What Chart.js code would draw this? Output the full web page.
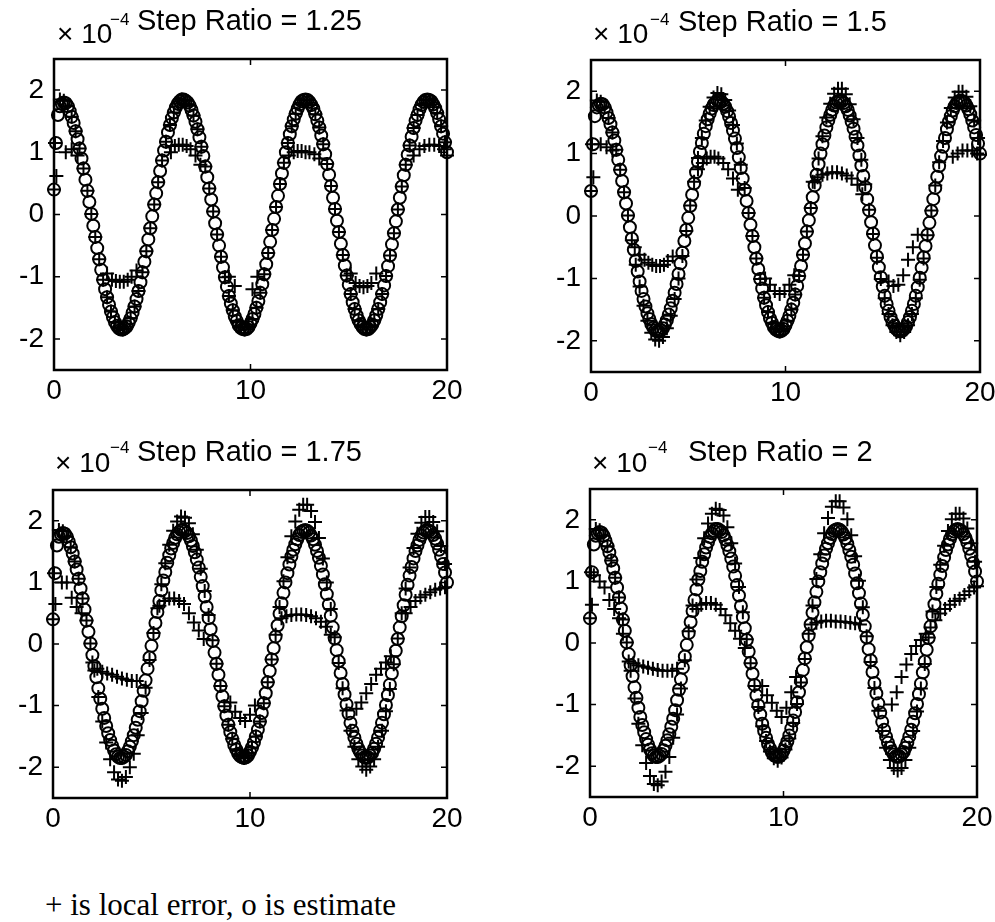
<!DOCTYPE html>
<html>
<head>
<meta charset="utf-8">
<script src="https://cdn.jsdelivr.net/npm/chart.js@4.4.0/dist/chart.umd.min.js"></script>
<style>
  body { margin: 0; background: #fff; width: 995px; height: 922px; position: relative; overflow: hidden; }
  canvas { position: absolute; }
  .t { position: absolute; font-family: "Liberation Sans", Arial, sans-serif; font-size: 28px; line-height: 28px; color: #000; white-space: nowrap; }
  .h { position: absolute; font-family: "Liberation Sans", Arial, sans-serif; font-size: 29px; line-height: 29px; color: #000; white-space: nowrap; }
  .sup { position: absolute; font-family: "Liberation Sans", Arial, sans-serif; font-size: 17px; line-height: 17px; color: #000; }
  .cap { position: absolute; left: 45px; top: 889px; font-family: "Liberation Serif", "Times New Roman", serif; font-size: 31px; line-height: 31px; color: #000; white-space: nowrap; }
</style>
</head>
<body>
<canvas id="p1" width="480" height="380" style="left:0;top:40px"></canvas>
<canvas id="p2" width="505" height="380" style="left:490px;top:40px"></canvas>
<canvas id="p3" width="480" height="400" style="left:0;top:440px"></canvas>
<canvas id="p4" width="505" height="400" style="left:490px;top:440px"></canvas>

<div class="t" style="left:57px;top:20px">× 10</div><div class="sup" style="left:110px;top:11px">−4</div>
<div class="h" style="left:137px;top:6px">Step Ratio = 1.25</div>
<div class="t" style="left:593px;top:20px">× 10</div><div class="sup" style="left:650px;top:11px">−4</div>
<div class="h" style="left:678px;top:7px">Step Ratio = 1.5</div>
<div class="t" style="left:55px;top:449px">× 10</div><div class="sup" style="left:110px;top:439px">−4</div>
<div class="h" style="left:137px;top:437px">Step Ratio = 1.75</div>
<div class="t" style="left:592px;top:449px">× 10</div><div class="sup" style="left:648px;top:439px">−4</div>
<div class="h" style="left:688px;top:437px">Step Ratio = 2</div>

<div class="cap">+ is local error, o is estimate</div>

<script>
// time points of the estimate (o), one row per unit of t
const tEst = [
  0,0.1,0.2,0.3,0.4,0.5,0.6,0.7,0.8,0.9,
  1,1.1,1.2,1.3,1.4,1.5,1.6,1.7,1.8,1.9,
  2,2.1,2.2,2.3,2.4,2.5,2.6,2.7,2.8,2.9,
  3,3.1,3.2,3.3,3.4,3.5,3.6,3.7,3.8,3.9,
  4,4.1,4.2,4.3,4.4,4.5,4.6,4.7,4.8,4.9,
  5,5.1,5.2,5.3,5.4,5.5,5.6,5.7,5.8,5.9,
  6,6.1,6.2,6.3,6.4,6.5,6.6,6.7,6.8,6.9,
  7,7.1,7.2,7.3,7.4,7.5,7.6,7.7,7.8,7.9,
  8,8.1,8.2,8.3,8.4,8.5,8.6,8.7,8.8,8.9,
  9,9.1,9.2,9.3,9.4,9.5,9.6,9.7,9.8,9.9,
  10,10.1,10.2,10.3,10.4,10.5,10.6,10.7,10.8,10.9,
  11,11.1,11.2,11.3,11.4,11.5,11.6,11.7,11.8,11.9,
  12,12.1,12.2,12.3,12.4,12.5,12.6,12.7,12.8,12.9,
  13,13.1,13.2,13.3,13.4,13.5,13.6,13.7,13.8,13.9,
  14,14.1,14.2,14.3,14.4,14.5,14.6,14.7,14.8,14.9,
  15,15.1,15.2,15.3,15.4,15.5,15.6,15.7,15.8,15.9,
  16,16.1,16.2,16.3,16.4,16.5,16.6,16.7,16.8,16.9,
  17,17.1,17.2,17.3,17.4,17.5,17.6,17.7,17.8,17.9,
  18,18.1,18.2,18.3,18.4,18.5,18.6,18.7,18.8,18.9,
  19,19.1,19.2,19.3,19.4,19.5,19.6,19.7,19.8,19.9,
  20];
const estimate = [
  0.4,1.15,1.6,1.74,1.78,1.8,1.79,1.74,1.66,1.57,
  1.47,1.34,1.21,1.06,0.90,0.74,0.56,0.38,0.20,0.01,
  -0.18,-0.36,-0.54,-0.72,-0.89,-1.05,-1.20,-1.33,-1.45,-1.56,
  -1.65,-1.73,-1.79,-1.83,-1.85,-1.85,-1.83,-1.80,-1.74,-1.67,
  -1.58,-1.48,-1.36,-1.23,-1.09,-0.93,-0.76,-0.59,-0.40,-0.22,
  -0.03,0.16,0.34,0.52,0.70,0.87,1.03,1.17,1.32,1.44,
  1.55,1.64,1.72,1.78,1.82,1.85,1.85,1.83,1.80,1.75,
  1.68,1.59,1.49,1.37,1.24,1.09,0.94,0.77,0.60,0.42,
  0.24,0.05,-0.14,-0.32,-0.50,-0.68,-0.85,-1.01,-1.16,-1.31,
  -1.43,-1.54,-1.64,-1.71,-1.78,-1.82,-1.84,-1.85,-1.84,-1.81,
  -1.75,-1.68,-1.60,-1.50,-1.39,-1.26,-1.12,-0.96,-0.80,-0.62,
  -0.44,-0.25,-0.07,0.12,0.30,0.49,0.66,0.83,1.00,1.15,
  1.29,1.42,1.53,1.62,1.70,1.77,1.82,1.84,1.85,1.84,
  1.81,1.76,1.70,1.61,1.51,1.40,1.27,1.13,0.97,0.81,
  0.64,0.46,0.27,0.09,-0.10,-0.28,-0.47,-0.65,-0.82,-0.98,
  -1.13,-1.28,-1.41,-1.52,-1.62,-1.70,-1.76,-1.81,-1.84,-1.85,
  -1.84,-1.81,-1.77,-1.70,-1.62,-1.52,-1.41,-1.28,-1.14,-0.99,
  -0.83,-0.66,-0.48,-0.30,-0.11,0.08,0.27,0.45,0.63,0.80,
  0.96,1.11,1.25,1.39,1.51,1.60,1.69,1.76,1.81,1.84,
  1.85,1.84,1.82,1.77,1.71,1.63,1.53,1.42,1.30,1.16,
  1.00];

// time points of the local error (+), main branch
const tErr = [0,0.05,0.3,0.5,0.7,0.9,1.1,1.3,1.5,1.7,1.9,2.1,2.3,2.5,2.7,2.9,3.1,3.3,3.5,3.7,3.9,4.1,4.3,4.5,4.7,4.9,5.1,5.3,5.5,5.7,5.9,6.1,6.3,6.5,6.7,6.9,7.1,7.3,7.5,7.7,7.9,8.1,8.3,8.5,8.7,8.9,9.1,9.3,9.5,9.7,9.9,10.1,10.3,10.5,10.7,10.9,11.1,11.3,11.5,11.7,11.9,12.1,12.3,12.5,12.7,12.9,13.1,13.3,13.5,13.7,13.9,14.1,14.3,14.5,14.7,14.9,15.1,15.3,15.5,15.7,15.9,16.1,16.3,16.5,16.7,16.9,17.1,17.3,17.5,17.7,17.9,18.1,18.3,18.5,18.7,18.9,19.1,19.3,19.5,19.7,19.9];
const errR125 = [0.4,1.15,1.85,1.83,1.74,1.57,1.34,1.06,0.74,0.38,0.01,-0.36,-0.72,-1.05,-1.33,-1.56,-1.73,-1.83,-1.85,-1.80,-1.67,-1.48,-1.23,-0.93,-0.59,-0.22,0.16,0.52,0.87,1.17,1.44,1.64,1.78,1.85,1.83,1.75,1.59,1.37,1.09,0.77,0.42,0.05,-0.32,-0.68,-1.01,-1.31,-1.54,-1.71,-1.82,-1.85,-1.81,-1.68,-1.50,-1.26,-0.96,-0.62,-0.25,0.12,0.49,0.83,1.15,1.42,1.62,1.77,1.84,1.84,1.76,1.61,1.40,1.13,0.81,0.46,0.09,-0.28,-0.65,-0.98,-1.28,-1.52,-1.70,-1.81,-1.85,-1.81,-1.70,-1.52,-1.28,-0.99,-0.66,-0.30,0.08,0.45,0.80,1.11,1.39,1.60,1.76,1.84,1.84,1.77,1.63,1.42,1.16];
const errR150 = [0.4,1.15,1.85,1.83,1.74,1.57,1.34,1.06,0.74,0.38,0.01,-0.39,-0.78,-1.13,-1.44,-1.68,-1.87,-1.98,-2.00,-1.94,-1.80,-1.60,-1.33,-1.00,-0.64,-0.24,0.17,0.55,0.93,1.25,1.53,1.75,1.90,1.97,1.95,1.86,1.69,1.46,1.16,0.82,0.45,0.05,-0.32,-0.68,-1.01,-1.31,-1.54,-1.71,-1.82,-1.85,-1.81,-1.68,-1.50,-1.26,-0.96,-0.62,-0.25,0.13,0.54,0.92,1.28,1.58,1.80,1.96,2.04,2.04,1.95,1.79,1.55,1.25,0.90,0.51,0.10,-0.29,-0.67,-1.01,-1.32,-1.57,-1.75,-1.86,-1.91,-1.86,-1.75,-1.57,-1.32,-1.02,-0.68,-0.31,0.09,0.49,0.86,1.20,1.50,1.73,1.90,1.99,1.99,1.91,1.76,1.53,1.25];
const errR175 = [0.4,1.15,1.85,1.83,1.74,1.57,1.34,1.06,0.74,0.38,0.01,-0.43,-0.86,-1.26,-1.60,-1.87,-2.08,-2.20,-2.22,-2.16,-2.00,-1.78,-1.48,-1.12,-0.71,-0.26,0.18,0.58,0.97,1.31,1.61,1.84,1.99,2.07,2.05,1.96,1.78,1.53,1.22,0.86,0.47,0.06,-0.32,-0.68,-1.01,-1.31,-1.54,-1.71,-1.82,-1.85,-1.81,-1.68,-1.50,-1.26,-0.96,-0.62,-0.25,0.15,0.60,1.02,1.41,1.75,1.99,2.18,2.26,2.26,2.16,1.98,1.72,1.39,1.00,0.57,0.11,-0.31,-0.72,-1.08,-1.41,-1.67,-1.87,-1.99,-2.04,-1.99,-1.87,-1.67,-1.41,-1.09,-0.73,-0.33,0.09,0.50,0.90,1.24,1.56,1.79,1.97,2.06,2.06,1.98,1.83,1.59,1.30];
const errR200 = [0.4,1.15,1.85,1.83,1.74,1.57,1.34,1.06,0.74,0.38,0.01,-0.45,-0.90,-1.31,-1.66,-1.95,-2.16,-2.29,-2.31,-2.25,-2.09,-1.85,-1.54,-1.16,-0.74,-0.28,0.19,0.61,1.03,1.38,1.70,1.94,2.10,2.18,2.16,2.07,1.88,1.62,1.29,0.91,0.50,0.06,-0.33,-0.70,-1.04,-1.35,-1.59,-1.76,-1.87,-1.91,-1.86,-1.73,-1.55,-1.30,-0.99,-0.64,-0.26,0.15,0.61,1.04,1.44,1.78,2.03,2.21,2.30,2.30,2.20,2.01,1.75,1.41,1.01,0.58,0.11,-0.31,-0.73,-1.10,-1.43,-1.70,-1.90,-2.03,-2.07,-2.03,-1.90,-1.70,-1.43,-1.11,-0.74,-0.34,0.09,0.51,0.91,1.27,1.58,1.82,2.01,2.10,2.10,2.02,1.86,1.62,1.32];

// local error (+), flattened branch near the extremes
const flatX125 = [0.12,0.6,0.9,1.2,2.7,2.95,3.15,3.35,3.55,3.75,3.95,4.2,5.95,6.15,6.35,6.55,6.75,6.95,7.2,7.45,8.9,9.2,10.1,10.35,11.95,12.2,12.4,12.6,12.8,13.0,13.25,13.5,15.1,15.35,15.55,15.75,15.95,16.15,16.4,18.3,18.6,18.85,19.1,19.35,19.6,19.85,20];
const flatY125 = [0.62,1.0,1.05,0.95,-0.95,-1.05,-1.07,-1.08,-1.08,-1.05,-1.0,-0.9,1.0,1.1,1.12,1.12,1.1,1.05,0.95,0.8,-1.0,-1.15,-1.2,-1.0,0.95,1.0,1.02,1.02,1.0,1.0,0.97,0.9,-0.95,-1.1,-1.15,-1.17,-1.15,-1.1,-0.95,0.95,1.05,1.1,1.12,1.12,1.1,1.05,0.95];
const flatX150 = [0.12,0.5,0.8,1.1,2.25,2.5,2.75,2.95,3.15,3.35,3.55,3.75,3.95,4.2,5.5,5.75,5.95,6.15,6.35,6.55,6.8,7.05,7.3,7.55,8.95,9.2,9.45,9.7,9.95,10.2,10.45,11.4,11.65,11.9,12.15,12.4,12.65,12.9,13.15,13.4,13.7,13.95,15.3,15.55,15.8,16.05,16.3,16.55,16.8,18.6,18.85,19.1,19.35,19.6,19.85,20];
const flatY150 = [0.62,1.15,1.1,1.05,-0.5,-0.62,-0.7,-0.75,-0.78,-0.8,-0.8,-0.78,-0.72,-0.65,0.75,0.85,0.92,0.95,0.95,0.92,0.85,0.75,0.6,0.42,-1.0,-1.1,-1.2,-1.25,-1.2,-1.1,-0.95,0.55,0.62,0.66,0.68,0.7,0.7,0.68,0.65,0.6,0.5,0.35,-1.05,-1.12,-1.1,-0.95,-0.7,-0.5,-0.3,0.95,1.0,1.05,1.05,1.05,1.0,0.98];
const flatX175 = [0.12,0.45,0.7,0.95,1.2,1.45,2.0,2.25,2.5,2.75,3.0,3.25,3.5,3.75,4.0,4.25,5.4,5.65,5.9,6.15,6.4,6.65,6.9,7.15,7.4,7.65,9.0,9.25,9.5,9.75,10.0,10.25,11.6,11.85,12.1,12.35,12.6,12.85,13.1,13.35,13.6,13.85,14.1,15.4,15.65,15.9,16.15,16.4,16.65,16.9,17.15,17.9,18.15,18.4,18.65,18.9,19.15,19.4,19.65,19.9];
const flatY175 = [0.65,1.0,1.0,0.75,0.6,0.5,-0.3,-0.4,-0.45,-0.48,-0.5,-0.53,-0.56,-0.58,-0.6,-0.6,0.62,0.7,0.74,0.74,0.7,0.65,0.5,0.35,0.22,0.08,-0.95,-1.1,-1.2,-1.25,-1.15,-1.0,0.42,0.45,0.47,0.48,0.48,0.47,0.45,0.42,0.36,0.28,0.15,-1.05,-0.95,-0.8,-0.65,-0.5,-0.4,-0.3,-0.2,0.5,0.6,0.7,0.76,0.8,0.84,0.88,0.9,0.92];
const flatX200 = [0.1,0.2,0.5,0.75,1.0,1.25,1.5,1.7,2.0,2.25,2.5,2.75,3.0,3.25,3.5,3.75,4.0,4.25,4.5,5.5,5.75,6.0,6.25,6.5,6.75,7.0,7.25,7.5,7.75,8.0,8.9,9.15,9.4,9.65,9.9,10.15,10.4,10.65,11.45,11.7,11.95,12.2,12.45,12.7,12.95,13.2,13.45,13.7,13.95,15.6,15.85,16.1,16.35,16.6,16.85,17.1,17.35,17.6,17.85,18.1,18.35,18.6,18.85,19.1,19.35,19.6,19.85,20];
const flatY200 = [0.62,1.1,1.0,0.9,0.7,0.55,0.4,0.15,-0.3,-0.33,-0.36,-0.38,-0.4,-0.42,-0.44,-0.45,-0.45,-0.45,-0.42,0.55,0.62,0.65,0.65,0.62,0.55,0.45,0.32,0.2,0.07,-0.08,-0.7,-0.85,-0.97,-1.1,-1.2,-1.05,-0.8,-0.55,0.3,0.33,0.35,0.36,0.36,0.35,0.35,0.34,0.33,0.32,0.3,-1.0,-0.8,-0.55,-0.35,-0.18,-0.05,0.05,0.15,0.25,0.37,0.48,0.55,0.62,0.68,0.72,0.78,0.84,0.9,0.92];

const xTicks = [0, 10, 20];
const yTicks = [-2, -1, 0, 1, 2];

function pts(xs, ys) {
  const n = Math.min(xs.length, ys.length);
  const out = [];
  for (let i = 0; i < n; i++) out.push({ x: xs[i], y: ys[i] });
  return out;
}

// box around the axes with inward tick marks, matlab style
const frame = {
  id: 'frame',
  afterDatasetsDraw(chart) {
    const { ctx, chartArea: a, scales: { x, y } } = chart;
    ctx.save();
    ctx.strokeStyle = '#000';
    ctx.lineWidth = 2.5;
    ctx.strokeRect(a.left, a.top, a.right - a.left, a.bottom - a.top);
    ctx.lineWidth = 1.5;
    ctx.beginPath();
    x.ticks.forEach(t => {
      const px = x.getPixelForValue(t.value);
      ctx.moveTo(px, a.bottom); ctx.lineTo(px, a.bottom - 6);
      ctx.moveTo(px, a.top); ctx.lineTo(px, a.top + 6);
    });
    y.ticks.forEach(t => {
      const py = y.getPixelForValue(t.value);
      ctx.moveTo(a.left, py); ctx.lineTo(a.left + 6, py);
      ctx.moveTo(a.right, py); ctx.lineTo(a.right - 6, py);
    });
    ctx.stroke();
    ctx.restore();
  }
};

const tickFont = { family: '"Liberation Sans", Arial, sans-serif', size: 28 };

function makePanel(id, errY, flatX, flatY, yWidth, pad) {
  const mark = { borderColor: '#000', backgroundColor: 'rgba(0,0,0,0)', clip: false };
  new Chart(document.getElementById(id), {
    type: 'scatter',
    data: {
      datasets: [
        { ...mark, data: pts(tEst, estimate), pointStyle: 'circle', pointRadius: 6, pointBorderWidth: 2 },
        { ...mark, data: pts(tErr, errY), pointStyle: 'cross', pointRadius: 7, pointBorderWidth: 2 },
        { ...mark, data: pts(flatX, flatY), pointStyle: 'cross', pointRadius: 7, pointBorderWidth: 2 }
      ]
    },
    options: {
      responsive: false,
      animation: false,
      devicePixelRatio: 1,
      layout: { padding: pad },
      plugins: { legend: { display: false }, tooltip: { enabled: false } },
      scales: {
        x: {
          type: 'linear', min: 0, max: 20,
          afterBuildTicks: s => { s.ticks = xTicks.map(v => ({ value: v })); },
          afterFit: s => { s.height = 40; s.paddingLeft = 0; s.paddingRight = 0; },
          grid: { display: false, drawTicks: false },
          border: { display: false },
          ticks: { color: '#000', font: tickFont, padding: 4, maxRotation: 0, autoSkip: false }
        },
        y: {
          type: 'linear', min: -2.5, max: 2.5,
          afterBuildTicks: s => { s.ticks = yTicks.map(v => ({ value: v })); },
          afterFit: s => { s.width = yWidth; s.paddingTop = 0; s.paddingBottom = 0; },
          grid: { display: false, drawTicks: false },
          border: { display: false },
          ticks: { color: '#000', font: tickFont, padding: 10, autoSkip: false }
        }
      }
    },
    plugins: [frame]
  });
}

makePanel('p1', errR125, flatX125, flatY125, 54, { top: 19, right: 33, bottom: 10, left: 0 });
makePanel('p2', errR150, flatX150, flatY150, 101, { top: 20, right: 15, bottom: 8, left: 0 });
makePanel('p3', errR175, flatX175, flatY175, 53, { top: 50, right: 33, bottom: 2, left: 0 });
makePanel('p4', errR200, flatX200, flatY200, 100, { top: 49, right: 18, bottom: 3, left: 0 });
</script>
</body>
</html>
